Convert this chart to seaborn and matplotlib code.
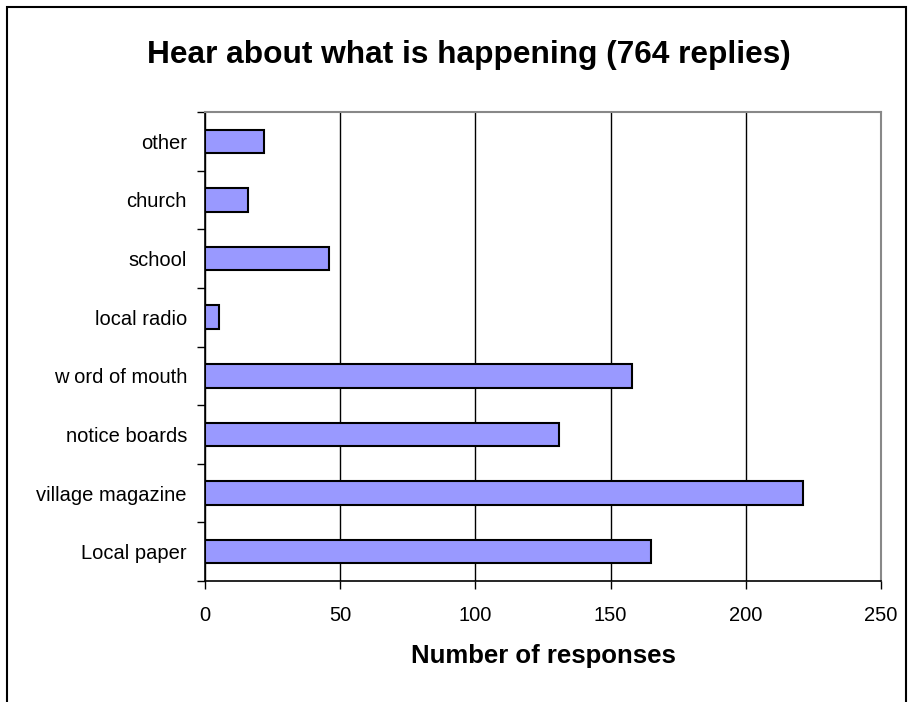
import pandas as pd
import matplotlib.pyplot as plt
import seaborn as sns
from matplotlib.patches import Rectangle

# Data
categories = ['other', 'church', 'school', 'local radio', 'w ord of mouth',
              'notice boards', 'village magazine', 'Local paper']
responses = [22, 16, 46, 5, 158, 131, 221, 165]
x_ticks = [0, 50, 100, 150, 200, 250]

df = pd.DataFrame({'source': categories, 'count': responses})

sns.set_style('white')
plt.rcParams['font.family'] = ['Liberation Sans', 'DejaVu Sans']
plt.rcParams['text.color'] = 'black'
plt.rcParams['xtick.color'] = 'black'
plt.rcParams['ytick.color'] = 'black'
plt.rcParams['axes.labelcolor'] = 'black'

fig = plt.figure(figsize=(9.13, 7.02), dpi=100)
ax = fig.add_axes([205 / 913, 1 - 581 / 702, 676 / 913, 469 / 702])

sns.barplot(data=df, x='count', y='source', orient='h', order=categories,
            color='#9999FF', saturation=1, width=0.4,
            edgecolor='black', linewidth=1.5, ax=ax, zorder=3)

ax.set_xlim(0, 250)
ax.set_ylim(len(categories) - 0.5, -0.5)
ax.set_xticks(x_ticks)
ax.set_xticklabels([str(t) for t in x_ticks], fontsize=14.5)
ax.tick_params(axis='x', length=6, width=1, colors='black', pad=12, direction='out', bottom=True)

# labels at bar centres, tick marks between categories
ax.tick_params(axis='y', which='major', length=0, pad=13, labelsize=14.5, colors='black')
ax.set_yticks([i - 0.5 for i in range(len(categories) + 1)], minor=True)
ax.tick_params(axis='y', which='minor', length=6, width=1, color='black', left=True, direction='out')

ax.grid(axis='x', color='black', linewidth=1, zorder=0)
ax.set_axisbelow(True)

for side in ['left', 'bottom']:
    ax.spines[side].set_color('black')
    ax.spines[side].set_linewidth(1.2)
for side in ['top', 'right']:
    ax.spines[side].set_visible(True)
    ax.spines[side].set_color('#888888')
    ax.spines[side].set_linewidth(1.5)

ax.set_xlabel('')
ax.set_ylabel('')

fig.text(469 / 913, 1 - 55 / 702, 'Hear about what is happening (764 replies)',
         ha='center', va='center', fontsize=22.8, fontweight='bold', color='black')
fig.text(543 / 913, 1 - 656 / 702, 'Number of responses',
         ha='center', va='center', fontsize=18.5, fontweight='bold', color='black')

# chart border
fig.patches.append(Rectangle((7 / 913, -0.05), 899 / 913, 1.05 - 7 / 702,
                             transform=fig.transFigure, fill=False,
                             edgecolor='black', linewidth=1.5))

plt.savefig('out.png', dpi=100)
plt.close()
